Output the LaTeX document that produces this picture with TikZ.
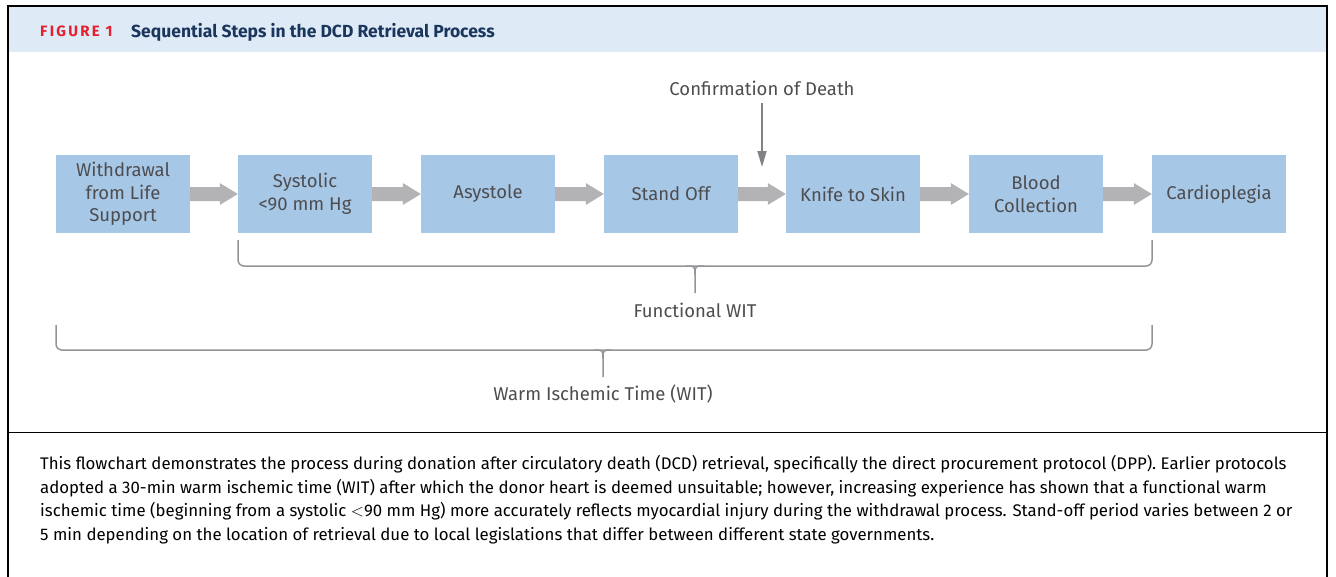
\documentclass[tikz,border=0pt]{standalone}
\usepackage{fontspec}
\setmainfont{Fira Sans}
\newfontfamily\capfont{Fira Sans}
\usetikzlibrary{arrows.meta,calc}
\definecolor{boxblue}{HTML}{A7C7E7}
\definecolor{txtgray}{HTML}{4D4D4F}
\definecolor{arrgray}{HTML}{B3B3B5}
\definecolor{brgray}{HTML}{939598}
\definecolor{darkarr}{HTML}{808285}
\definecolor{headblue}{HTML}{DEEAF6}
\definecolor{navy}{HTML}{1B365D}
\definecolor{figred}{HTML}{E5202E}
\tikzset{
  stepbox/.style={fill=boxblue, draw=none, minimum width=134pt, minimum height=78pt,
    inner sep=0pt, align=center, text=txtgray, font=\fontsize{18.5}{22.5}\selectfont},
  lbl/.style={text=txtgray, font=\fontsize{18.5}{22}\selectfont, inner sep=0pt},
  bracel/.style={draw=brgray, line width=1.5pt},
  captxt/.style={anchor=base west, inner sep=0pt, text=black, font=\capfont\fontsize{16.8}{20}\selectfont}
}
\begin{document}
\begin{tikzpicture}[x=1pt,y=-1pt]
\useasboundingbox (0,0) rectangle (1336,576);
% frame and header
\fill[headblue] (8,6) rectangle (1327,52);
\draw[black, line width=1.5pt] (8,580) -- (8,6) -- (1327,6) -- (1327,580);
\draw[black, line width=1pt] (8,432) -- (1327,432);
\node[anchor=base west, inner sep=0pt, text=figred, font=\bfseries\fontsize{15}{17}\selectfont\addfontfeature{LetterSpace=15}] (fig) at (40,36.5) {FIGURE 1};
\node[anchor=base west, inner sep=0pt, text=navy, font=\bfseries\fontsize{17.5}{20}\selectfont] (title) at (131,37) {Sequential Steps in the DCD Retrieval Process};
% boxes
\node[stepbox] (b1) at (123,194) {Withdrawal\\from Life\\Support};
\node[stepbox] (b2) at (305,194) {Systolic\\<90 mm Hg};
\node[stepbox] (b3) at (488,194) {Asystole};
\node[stepbox] (b4) at (671,194) {Stand Off};
\node[stepbox] (b5) at (853,194) {Knife to Skin};
\node[stepbox] (b6) at (1036,194) {Blood\\Collection};
\node[stepbox] (b7) at (1219,194) {Cardioplegia};
% block arrows
\foreach \a/\b in {b1/b2,b2/b3,b3/b4,b4/b5,b5/b6,b6/b7}{
  \fill[arrgray] ($(\a.east)+(0,-7)$) -- ($(\b.west)+(-18,-7)$) -- ($(\b.west)+(-18,-11)$)
    -- (\b.west) -- ($(\b.west)+(-18,11)$) -- ($(\b.west)+(-18,7)$) -- ($(\a.east)+(0,7)$) -- cycle;
}
% confirmation of death
\node[lbl] (conf) at (762,88) {Confirmation of Death};
\coordinate (ctip) at (762,167);
\draw[darkarr, line width=1.8pt, -{Triangle[width=9pt,length=16pt]}] ($(conf.south)+(0,7)$) -- (ctip);
% functional WIT brace
\draw[bracel, rounded corners=6pt] (238,240) -- (238,266) -- (1152,266) -- (1152,240);
\draw[bracel] (686,266) .. controls (695,266) .. (695,275) -- (695,293);
\draw[bracel] (704,266) .. controls (695,266) .. (695,275);
\node[lbl] (fwit) at (695,310) {Functional WIT};
% warm ischemic time brace
\draw[bracel, rounded corners=6pt] (56,325) -- (56,350) -- (1152,350) -- (1152,325);
\draw[bracel] (594,350) .. controls (603,350) .. (603,359) -- (603,377);
\draw[bracel] (612,350) .. controls (603,350) .. (603,359);
\node[lbl] (wit) at (603,394) {Warm Ischemic Time (WIT)};
% caption
\node[captxt] (c1) at (40,469) {This flowchart demonstrates the process during donation after circulatory death (DCD) retrieval, specifically the direct procurement protocol (DPP). Earlier protocols};
\node[captxt] (c2) at (40,493) {adopted a 30-min warm ischemic time (WIT) after which the donor heart is deemed unsuitable; however, increasing experience has shown that a functional warm};
\node[captxt] (c3) at (40,516) {ischemic time (beginning from a systolic $<$90 mm Hg) more accurately reflects myocardial injury during the withdrawal process. Stand-off period varies between 2 or};
\node[captxt] (c4) at (40,540) {5 min depending on the location of retrieval due to local legislations that differ between different state governments.};
\end{tikzpicture}
\end{document}
